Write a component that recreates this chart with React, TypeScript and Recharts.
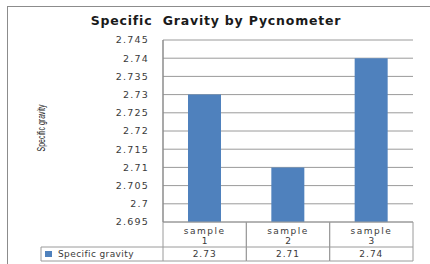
import { BarChart, Bar, XAxis, YAxis, CartesianGrid } from 'recharts'

const categories = ['sample 1', 'sample 2', 'sample 3']
const specificGravity = [2.73, 2.71, 2.74]
const yTicks = [2.695, 2.7, 2.705, 2.71, 2.715, 2.72, 2.725, 2.73, 2.735, 2.74, 2.745]
const seriesName = 'Specific gravity'
const chartTitle = 'Specific  Gravity by Pycnometer'
const axisTitle = 'Specific gravity'

const data = categories.map((c, i) => ({ name: c, value: specificGravity[i] }))

const W = 430
const H = 264
const TABLE_H = 42
const M = { top: 40, right: 17, bottom: 0, left: 0 }
const Y_W = 163
const BAND = (W - M.left - M.right - Y_W) / categories.length
const ROW1 = 25
const ROW2 = 14
const LEGEND_W = 122
const LINE = '#9a9a9a'
const TXT = '#3a3a3a'
const BLUE = '#4f81bd'
const FONT = '"DejaVu Sans", Verdana, sans-serif'

function TableTick(props: any) {
  const { x, y, payload, index } = props
  const left = x - BAND / 2
  const [word, num] = String(payload.value).split(' ')
  const bottom = y + ROW1 + ROW2
  return (
    <g fontFamily={FONT} fontSize={9} fill={TXT}>
      <line x1={left} y1={y} x2={left} y2={bottom} stroke={LINE} />
      <line x1={left + BAND} y1={y} x2={left + BAND} y2={bottom} stroke={LINE} />
      <line x1={left} y1={y + ROW1} x2={left + BAND} y2={y + ROW1} stroke={LINE} />
      <line x1={left} y1={bottom} x2={left + BAND} y2={bottom} stroke={LINE} />
      <text x={x} y={y + 12} textAnchor="middle" letterSpacing={1.5} fill={TXT}>{word}</text>
      <text x={x} y={y + 22} textAnchor="middle" fill={TXT}>{num}</text>
      <text x={x} y={y + ROW1 + 10} textAnchor="middle" letterSpacing={1} fill={TXT}>
        {String(data[index].value)}
      </text>
      {index === 0 && (
        <g>
          <line x1={left - LEGEND_W} y1={y + ROW1} x2={left} y2={y + ROW1} stroke={LINE} />
          <line x1={left - LEGEND_W} y1={bottom} x2={left} y2={bottom} stroke={LINE} />
          <line x1={left - LEGEND_W} y1={y + ROW1} x2={left - LEGEND_W} y2={bottom} stroke={LINE} />
          <rect x={left - LEGEND_W + 4} y={y + ROW1 + 4} width={7} height={6} fill={BLUE} />
          <text x={left - LEGEND_W + 17} y={y + ROW1 + 10} letterSpacing={0.4} fill={TXT}>{seriesName}</text>
        </g>
      )}
    </g>
  )
}

function AxisTitle(props: any) {
  const vb = props.viewBox
  const cx = vb.x + 42
  const cy = vb.y + vb.height / 2 - 3
  return (
    <text
      x={cx}
      y={cy}
      transform={`rotate(-90 ${cx} ${cy})`}
      textAnchor="middle"
      dominantBaseline="middle"
      fontFamily='"Liberation Sans Narrow", "Liberation Sans", sans-serif'
      fontSize={10}
      textLength={47}
      lengthAdjust="spacingAndGlyphs"
      fill="#222"
    >
      {axisTitle}
    </text>
  )
}

export default function App() {
  return (
    <div style={{ position: 'absolute', left: 0, top: 0, width: W, height: H, background: '#fff', overflow: 'hidden' }}>
      <div
        style={{
          position: 'absolute', left: 7, top: 6, width: W, height: H,
          borderLeft: '1.5px solid #8c8c8c', borderTop: '1.5px solid #8c8c8c',
        }}
      />
      <div
        style={{
          position: 'absolute', left: 0, top: 14, width: 432, textAlign: 'center', whiteSpace: 'pre',
          fontFamily: FONT, fontWeight: 'bold', fontSize: 12.5, letterSpacing: 0.8, color: '#1a1a1a', lineHeight: '14px',
        }}
      >
        {chartTitle}
      </div>
      <div style={{ position: 'absolute', left: 0, top: 0 }}>
        <BarChart width={W} height={H} data={data} margin={M} barCategoryGap="30%">
          <CartesianGrid horizontal vertical={false} stroke={LINE} />
          <XAxis
            dataKey="name"
            height={TABLE_H}
            tickLine={false}
            tickSize={0}
            tickMargin={0}
            axisLine={{ stroke: LINE }}
            tick={<TableTick />}
            interval={0}
          />
          <YAxis
            width={Y_W}
            domain={[yTicks[0], yTicks[yTicks.length - 1]]}
            ticks={yTicks}
            interval={0}
            allowDataOverflow
            tickLine={false}
            tickSize={0}
            tickMargin={14}
            axisLine={{ stroke: '#8c8c8c', strokeWidth: 1.5 }}
            tick={{ fontFamily: FONT, fontSize: 9.5, fill: TXT, letterSpacing: 1.2 }}
            label={<AxisTitle />}
          />
          <Bar dataKey="value" name={seriesName} fill={BLUE} isAnimationActive={false} />
        </BarChart>
      </div>
    </div>
  )
}
